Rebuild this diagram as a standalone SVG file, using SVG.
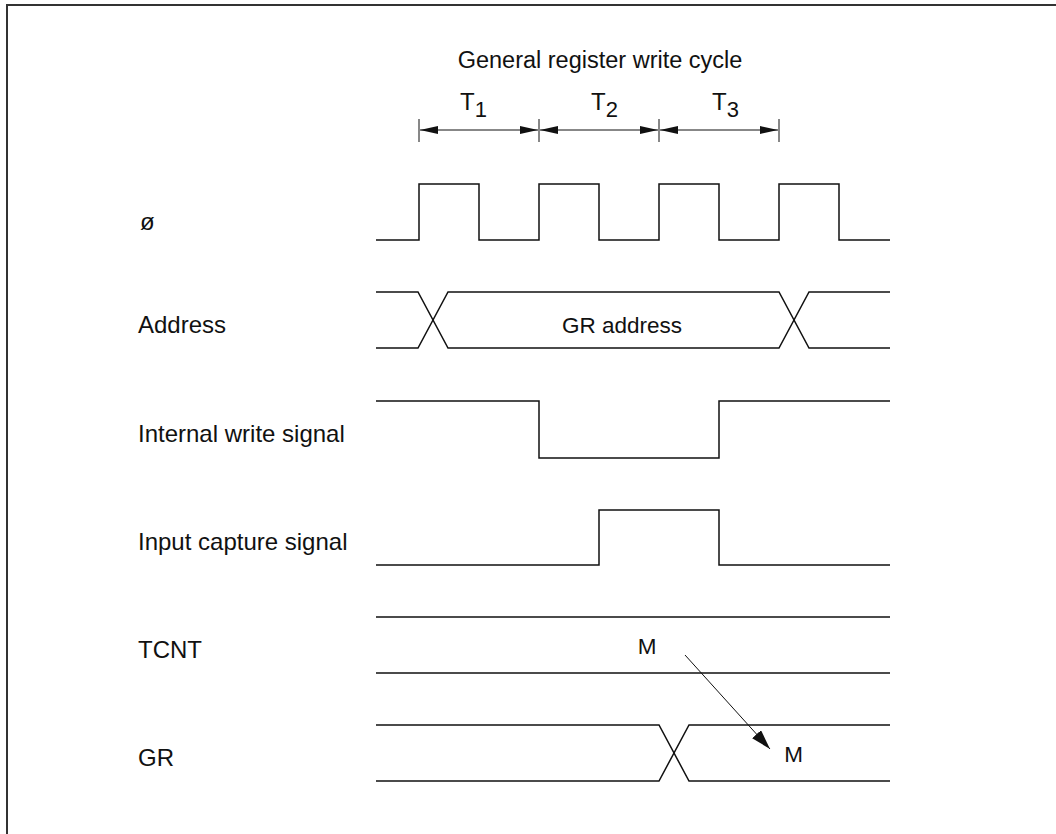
<svg xmlns="http://www.w3.org/2000/svg" width="1056" height="834" viewBox="0 0 1056 834">
<defs>
<style>
text{font-family:"Liberation Sans",Arial,sans-serif;font-size:24px;fill:#111}
.w{fill:none;stroke:#111;stroke-width:1.5}
.thin{fill:none;stroke:#111;stroke-width:1}
.mid{text-anchor:middle}
</style>
<marker id="ah" markerWidth="18" markerHeight="8" refX="18" refY="4" orient="auto" markerUnits="userSpaceOnUse">
<path d="M0,0 L18,4 L0,8 Z" fill="#111"/>
</marker>
<marker id="ah2" markerWidth="20" markerHeight="12" refX="20" refY="6" orient="auto" markerUnits="userSpaceOnUse">
<path d="M0,0 L20,6 L0,12 Z" fill="#111"/>
</marker>
</defs>
<rect width="1056" height="834" fill="#fff"/>
<g id="frame">
<path d="M7,834 V5 H1056" fill="none" stroke="#333" stroke-width="2"/>
</g>
<g id="title">
<text x="600" y="68" class="mid" style="font-size:23.5px">General register write cycle</text>
</g>
<g id="periods">
<path class="thin" d="M419,119 V142 M539,119 V142 M659,119 V142 M779,119 V142"/>
<line class="thin" x1="479" y1="130" x2="420" y2="130" marker-end="url(#ah)"/>
<line class="thin" x1="479" y1="130" x2="538" y2="130" marker-end="url(#ah)"/>
<line class="thin" x1="599" y1="130" x2="540" y2="130" marker-end="url(#ah)"/>
<line class="thin" x1="599" y1="130" x2="658" y2="130" marker-end="url(#ah)"/>
<line class="thin" x1="719" y1="130" x2="660" y2="130" marker-end="url(#ah)"/>
<line class="thin" x1="719" y1="130" x2="778" y2="130" marker-end="url(#ah)"/>
<text x="460" y="110">T<tspan font-size="22" dy="7">1</tspan></text>
<text x="591" y="110">T<tspan font-size="22" dy="7">2</tspan></text>
<text x="712" y="110">T<tspan font-size="22" dy="7">3</tspan></text>
</g>
<g id="labels">
<text x="140" y="230">ø</text>
<text x="138" y="333">Address</text>
<text x="138" y="442">Internal write signal</text>
<text x="138" y="550">Input capture signal</text>
<text x="138" y="658">TCNT</text>
<text x="138" y="766">GR</text>
</g>
<g id="clock">
<path class="w" d="M376,240 H419 V184 H479 V240 H539 V184 H599 V240 H659 V184 H719 V240 H779 V184 H839 V240 H890"/>
</g>
<g id="address">
<path class="w" d="M376,292 H418 L448,348 H779 L809,292 H890"/>
<path class="w" d="M376,348 H418 L448,292 H779 L809,348 H890"/>
<text x="622" y="333" class="mid" style="font-size:22.5px">GR address</text>
</g>
<g id="write">
<path class="w" d="M376,401 H539 V458 H719 V401 H890"/>
</g>
<g id="capture">
<path class="w" d="M376,565 H599 V510 H719 V565 H890"/>
</g>
<g id="tcnt">
<path class="w" d="M376,617 H890 M376,673 H890"/>
<text x="647" y="654" class="mid" style="font-size:22.5px">M</text>
</g>
<g id="gr">
<path class="w" d="M376,725 H659 L689,781 H890"/>
<path class="w" d="M376,781 H659 L689,725 H890"/>
<text x="793.5" y="762" class="mid" style="font-size:22.5px">M</text>
</g>
<g id="connectors">
<line class="thin" x1="685" y1="655" x2="770" y2="749" marker-end="url(#ah2)"/>
</g>
</svg>
